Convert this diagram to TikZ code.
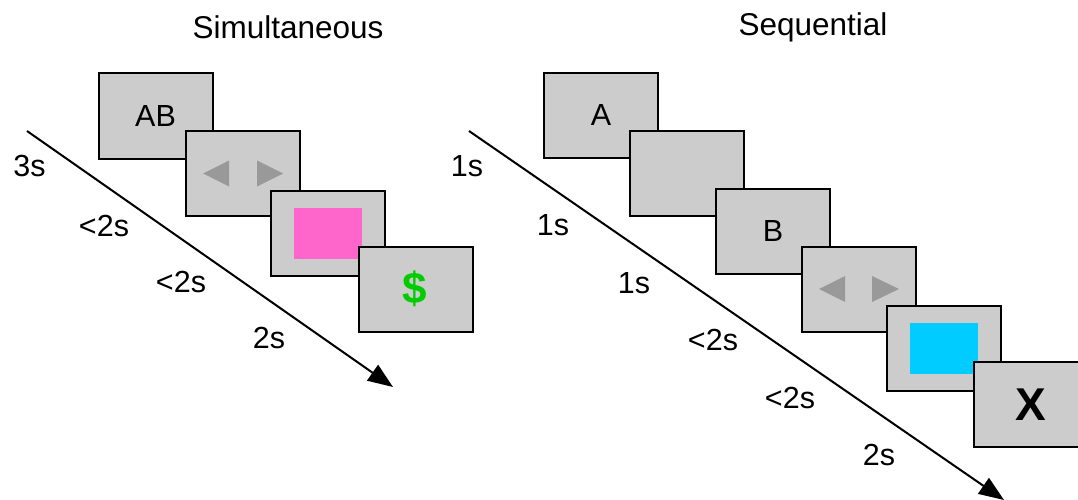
\documentclass[tikz,border=0pt]{standalone}
\usepackage{fontspec}
\setmainfont{Liberation Sans}
\usetikzlibrary{arrows.meta}
\definecolor{boxgray}{HTML}{CCCCCC}
\definecolor{trigray}{HTML}{999999}
\definecolor{stimpink}{HTML}{FF66CC}
\definecolor{stimcyan}{HTML}{00CCFF}
\definecolor{moneygreen}{HTML}{00CC00}
\tikzset{
  frame/.style={draw=black, line width=2pt, fill=boxgray, minimum width=114pt, minimum height=85pt, inner sep=0pt, font=\fontsize{30.5}{36}\selectfont},
  stim/.style={inner sep=0pt, minimum width=68pt, minimum height=51pt},
  lbl/.style={inner sep=0pt, font=\fontsize{30.5}{36}\selectfont},
  ttl/.style={inner sep=0pt, font=\fontsize{31.5}{37}\selectfont},
  timeline/.style={line width=2pt, -{Triangle[length=25pt,width=19pt]}},
  tri/.style={fill=trigray},
}
\begin{document}
\begin{tikzpicture}[x=1pt,y=-1pt]
\useasboundingbox (0,0) rectangle (1078,500);
% titles
\node[ttl] (t1) at (288,27) {Simultaneous};
\node[ttl] (t2) at (813,27) {Sequential};
% timelines
\coordinate (ls) at (27,131);
\coordinate (le) at (393,387);
\draw[timeline] (ls) -- (le);
\coordinate (rs) at (469,131);
\coordinate (re) at (1004,500);
\draw[timeline] (rs) -- (re);
% left boxes
\node[frame] (b1) at (155.5,116) {AB};
\node[frame] (b2) at (243,173.5) {};
\fill[tri] ([shift={(-40,0)}]b2.center) -- ([shift={(-14,-13)}]b2.center) -- ([shift={(-14,13)}]b2.center) -- cycle;
\fill[tri] ([shift={(40,0)}]b2.center) -- ([shift={(14,-13)}]b2.center) -- ([shift={(14,13)}]b2.center) -- cycle;
\node[frame] (b3) at (328,233.5) {};
\node[stim, fill=stimpink] (p1) at (b3.center) {};
\node[frame] (b4) at (416,289) {};
\node[inner sep=0pt, text=moneygreen, font=\fontsize{44}{50}\selectfont\bfseries] (m1) at (415,289) {\$};
% left labels
\node[lbl] (l1) at (29.5,166) {3s};
\node[lbl] (l2) at (104,226) {<2s};
\node[lbl] (l3) at (181,282) {<2s};
\node[lbl] (l4) at (269,338) {2s};
% right boxes
\node[frame] (c1) at (601,115.5) {A};
\node[frame] (c2) at (687,173.5) {};
\node[frame] (c3) at (773,231.5) {B};
\node[frame] (c4) at (859,289) {};
\fill[tri] ([shift={(-40,0)}]c4.center) -- ([shift={(-14,-13)}]c4.center) -- ([shift={(-14,13)}]c4.center) -- cycle;
\fill[tri] ([shift={(40,0)}]c4.center) -- ([shift={(13,-13)}]c4.center) -- ([shift={(13,13)}]c4.center) -- cycle;
\node[frame] (c5) at (944,348.5) {};
\node[stim, fill=stimcyan] (p2) at (c5.center) {};
\node[frame, font=\fontsize{46}{52}\selectfont\bfseries] (c6) at (1031,404.5) {X};
% right labels
\node[lbl] (r1) at (467,166) {1s};
\node[lbl] (r2) at (553,225) {1s};
\node[lbl] (r3) at (634,283) {1s};
\node[lbl] (r4) at (713,340) {<2s};
\node[lbl] (r5) at (790,398) {<2s};
\node[lbl] (r6) at (879,455) {2s};
\end{tikzpicture}
\end{document}
